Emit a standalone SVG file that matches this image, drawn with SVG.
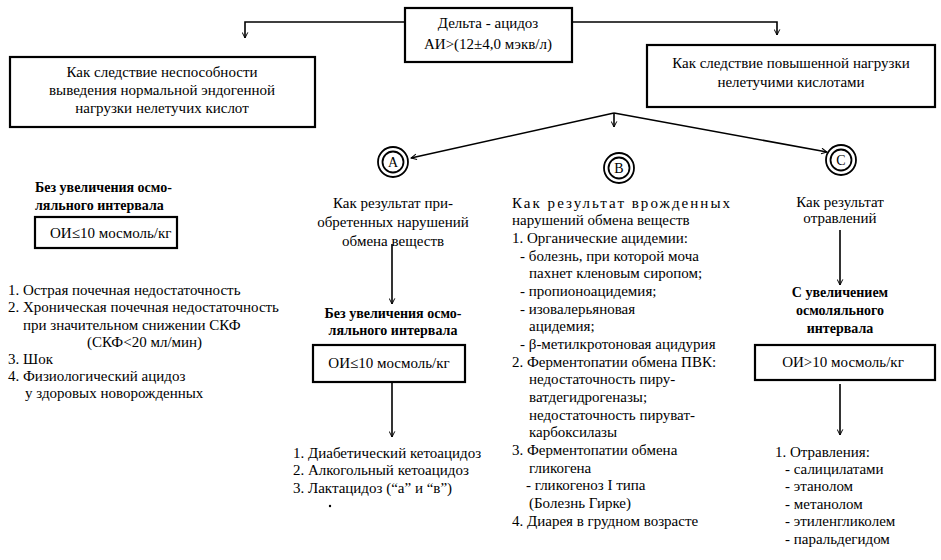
<svg xmlns="http://www.w3.org/2000/svg" width="941" height="560" viewBox="0 0 941 560">
<style>
text{font-family:"Liberation Serif","Times New Roman",serif;font-size:15px;fill:#000}
.c{text-anchor:middle}
.b{font-weight:bold;font-size:14px}
.box{fill:#fff;stroke:#000;stroke-width:2.2}
.ln{fill:none;stroke:#000;stroke-width:1.6}
.ring{fill:#fff;stroke:#000;stroke-width:1.8}
.lt{font-size:14px}
</style>
<defs>
<marker id="open" viewBox="0 0 10 10" refX="9" refY="5" markerWidth="7" markerHeight="7" orient="auto" markerUnits="userSpaceOnUse">
<path d="M1,1 L9,5 L1,9" fill="none" stroke="#000" stroke-width="1.4"/>
</marker>
</defs>
<rect width="941" height="560" fill="#fff"/>
<g id="connectors">
<polyline class="ln" points="405,22 245,22 245,38" marker-end="url(#open)"/>
<polyline class="ln" points="572,22 777,22 777,35" marker-end="url(#open)"/>
<line class="ln" x1="614" y1="113" x2="614" y2="127" marker-end="url(#open)"/>
<line class="ln" x1="614" y1="113" x2="411" y2="158" marker-end="url(#open)"/>
<line class="ln" x1="614" y1="113" x2="827" y2="152" marker-end="url(#open)"/>
<line class="ln" x1="392" y1="244" x2="392" y2="304" marker-end="url(#open)"/>
<line class="ln" x1="392" y1="383" x2="392" y2="437" marker-end="url(#open)"/>
<line class="ln" x1="840" y1="230" x2="840" y2="285" marker-end="url(#open)"/>
<line class="ln" x1="840" y1="384" x2="840" y2="435" marker-end="url(#open)"/>
</g>
<g id="delta">
<rect class="box" x="405" y="8" width="167" height="54"/>
<text class="c" x="488" y="28">Дельта - ацидоз</text>
<text class="c" x="488" y="49">АИ&gt;(12±4,0 мэкв/л)</text>
</g>
<g id="left-box">
<rect class="box" x="10" y="57" width="305" height="70"/>
<text class="c" x="162" y="77">Как  следствие неспособности</text>
<text class="c" x="162" y="95">выведения нормальной эндогенной</text>
<text class="c" x="162" y="113">нагрузки нелетучих кислот</text>
</g>
<g id="right-box">
<rect class="box" x="647" y="45" width="288" height="62"/>
<text class="c" x="791" y="68">Как следствие повышенной нагрузки</text>
<text class="c" x="791" y="87">нелетучими кислотами</text>
</g>
<g id="circle-a">
<circle class="ring" cx="393" cy="162" r="15"/>
<circle class="ring" cx="393" cy="162" r="10.5"/>
<text class="c lt" x="393" y="167">A</text>
</g>
<g id="circle-b">
<circle class="ring" cx="619" cy="168" r="15"/>
<circle class="ring" cx="619" cy="168" r="10.5"/>
<text class="c lt" x="619" y="173">B</text>
</g>
<g id="circle-c">
<circle class="ring" cx="841" cy="160" r="15"/>
<circle class="ring" cx="841" cy="160" r="10.5"/>
<text class="c lt" x="841" y="165">C</text>
</g>
<g id="left-col">
<text class="b" x="35" y="192">Без увеличения осмо-</text>
<text class="b" x="35" y="210">ляльного интервала</text>
<rect class="box" x="35" y="217" width="142" height="31"/>
<text x="50" y="238">ОИ≤10 мосмоль/кг</text>
<text x="8" y="295">1. Острая почечная недостаточность</text>
<text x="8" y="312">2. Хроническая почечная недостаточность</text>
<text x="23" y="330">при значительном снижении СКФ</text>
<text x="87" y="347">(СКФ&lt;20 мл/мин)</text>
<text x="8" y="364">3. Шок</text>
<text x="8" y="381">4. Физиологический ацидоз</text>
<text x="25" y="398">у здоровых новорожденных</text>
</g>
<g id="col-a">
<text class="c" x="393" y="208">Как результат при-</text>
<text class="c" x="393" y="227">обретенных нарушений</text>
<text class="c" x="393" y="246">обмена веществ</text>
<text class="c b" x="393" y="318">Без увеличения осмо-</text>
<text class="c b" x="393" y="335">ляльного интервала</text>
<rect class="box" x="313" y="345" width="152" height="37"/>
<text class="c" x="389" y="368">ОИ≤10 мосмоль/кг</text>
<text x="293" y="458">1. Диабетический кетоацидоз</text>
<text x="293" y="475">2. Алкогольный кетоацидоз</text>
<text x="293" y="493">3. Лактацидоз (“а” и “в”)</text>
<circle cx="330" cy="506" r="1.2" fill="#000"/>
</g>
<g id="col-b">
<text x="512" y="208" textLength="218" lengthAdjust="spacing">Как результат врожденных</text>
<text x="512" y="225">нарушений обмена веществ</text>
<text x="512" y="243">1. Органические ацидемии:</text>
<text x="520" y="261">- болезнь, при которой моча</text>
<text x="529" y="278">пахнет кленовым сиропом;</text>
<text x="520" y="296">- пропионоацидемия;</text>
<text x="520" y="314">- изовалерьяновая</text>
<text x="529" y="331">ацидемия;</text>
<text x="520" y="349">- β-метилкротоновая ацидурия</text>
<text x="512" y="367">2. Ферментопатии обмена ПВК:</text>
<text x="529" y="384">недостаточность пиру-</text>
<text x="529" y="402">ватдегидрогеназы;</text>
<text x="529" y="420">недостаточность пируват-</text>
<text x="529" y="437">карбоксилазы</text>
<text x="512" y="455">3. Ферментопатии обмена</text>
<text x="529" y="473">гликогена</text>
<text x="526" y="490">- гликогеноз I типа</text>
<text x="529" y="508">(Болезнь Гирке)</text>
<text x="512" y="526">4. Диарея в грудном возрасте</text>
</g>
<g id="col-c">
<text class="c" x="840" y="207">Как результат</text>
<text class="c" x="840" y="223">отравлений</text>
<text class="c b" x="840" y="297">С увеличением</text>
<text class="c b" x="840" y="315">осмоляльного</text>
<text class="c b" x="840" y="333">интервала</text>
<rect class="box" x="755" y="345" width="180" height="35"/>
<text class="c" x="843" y="367">ОИ&gt;10 мосмоль/кг</text>
<text x="775" y="457">1. Отравления:</text>
<text x="785" y="474">- салицилатами</text>
<text x="785" y="491">- этанолом</text>
<text x="785" y="509">- метанолом</text>
<text x="785" y="526">- этиленгликолем</text>
<text x="785" y="544">- паральдегидом</text>
</g>
</svg>
